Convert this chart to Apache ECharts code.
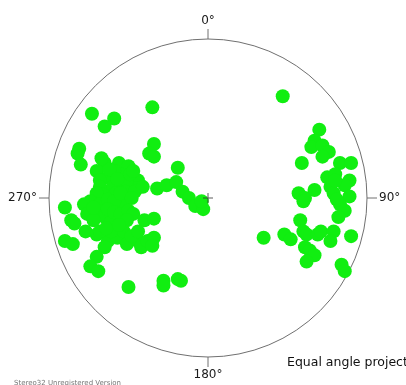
<!DOCTYPE html>
<html>
<head>
<meta charset="utf-8">
<script src="https://cdn.jsdelivr.net/npm/echarts@6/dist/echarts.min.js"></script>
<style>html,body{margin:0;padding:0;background:#fff;}#c{width:406px;height:385px;}</style>
</head>
<body>
<div id="c"></div>
<script>
// Poles, as [east, north] in percent of the primitive circle radius
const eastCluster = [
  [47,64],[70,43],[67,36],[65,32],[72,33],[76,29],[72,26],[59,22],[83,22],[90,22],
  [75,13],[80,15],[89,11],[86,8],[77,7],[79,3],[89,1],[80,11],[57,3],[61,0],
  [67,5],[60,-2],[83,-4],[81,-1],[86,-8],[82,-12],[58,-14],[60,-21],[35,-25],[48,-23],
  [52,-26],[62,-23],[69,-23],[71,-21],[79,-21],[77,-27],[90,-24],[61,-31],[64,-33],[67,-36],
  [62,-40],[84,-42],[86,-46]
];
const westCluster = [
  [-35,57],[-73,53],[-59,50],[-65,45],[-34,34],[-37,28],[-34,26],[-81,31],[-82,28],[-80,21],
  [-19,19],[-65,22],[-70,17],[-56,22],[-50,20],[-55,15],[-44,11],[-45,6],[-63,13],[-60,7],
  [-53,7],[-51,11],[-68,11],[-59,17],[-49,15],[-68,7],[-58,3],
  [-62,18],[-57,12],[-52,4],[-66,2],[-60,-5],[-54,-4],[-46,4],[-67,25],[-47,17],[-41,7],
  [-32,6],[-26,8],[-20,10],[-16,4],[-12,0],[-8,-5],[-3,-7],[-4,-2],
  [-70,3],[-74,-2],[-68,-4],[-63,-1],[-78,-4],[-59,-2],[-55,3],[-48,0],
  [-90,-6],[-86,-14],[-84,-16],[-77,-21],[-76,-10],[-70,-10],[-65,-12],[-72,-14],[-61,-15],
  [-72,-6],[-63,-7],[-59,-9],[-55,-10],[-50,-8],[-47,-10],[-40,-14],[-34,-13],[-51,-14],
  [-70,-23],[-63,-27],[-65,-31],[-57,-25],[-53,-21],[-68,-21],[-61,-21],[-51,-29],[-44,-27],
  [-64,-19],[-56,-17],[-48,-24],
  [-44,-21],[-42,-31],[-38,-27],[-34,-25],[-35,-30],
  [-90,-27],[-85,-29],[-70,-37],[-74,-43],[-69,-46],
  [-50,-56],[-28,-52],[-28,-55],[-19,-51],[-17,-52]
];
const centre = [[0,0]];
const directions = ['0°','90°','180°','270°'];

const chart = echarts.init(document.getElementById('c'), null, {renderer:'canvas'});
const FONT = 'DejaVu Sans';
chart.setOption({
  animation:false,
  backgroundColor:'#ffffff',
  polar:{center:[208,198], radius:159},
  angleAxis:{
    type:'value', min:0, max:360, interval:90, startAngle:90, clockwise:true,
    axisLine:{show:true, lineStyle:{color:'#707070', width:1}},
    axisTick:{show:true, inside:false, length:10, lineStyle:{color:'#707070', width:1}},
    axisLabel:{show:true, margin:12, color:'#1a1a1a', fontFamily:FONT, fontSize:12,
      formatter:function(v){ return v>=360 ? '' : directions[Math.round(v/90)]; }},
    splitLine:{show:false}
  },
  radiusAxis:{type:'value', min:0, max:1, show:false, axisLine:{show:false}, axisLabel:{show:false}, axisTick:{show:false}, splitLine:{show:false}},
  grid:{left:49, top:39, width:318, height:318},
  xAxis:{type:'value', min:-100, max:100, show:false},
  yAxis:{type:'value', min:-100, max:100, show:false},
  series:[
    {type:'scatter', xAxisIndex:0, yAxisIndex:0, data:eastCluster, symbol:'circle', symbolSize:14,
     itemStyle:{color:'#11ee11', opacity:1}, silent:true},
    {type:'scatter', xAxisIndex:0, yAxisIndex:0, data:westCluster, symbol:'circle', symbolSize:14,
     itemStyle:{color:'#11ee11', opacity:1}, silent:true},
    {type:'scatter', xAxisIndex:0, yAxisIndex:0, data:centre, z:5,
     symbol:'path://M4.5,0L5.5,0L5.5,4.5L10,4.5L10,5.5L5.5,5.5L5.5,10L4.5,10L4.5,5.5L0,5.5L0,4.5L4.5,4.5Z', symbolSize:10,
     itemStyle:{color:'#333'}, silent:true}
  ],
  graphic:[
    {type:'text', left:287, top:356, style:{text:'Equal angle projection', fontFamily:FONT, fontSize:12.5, fill:'#111'}},
    {type:'text', left:14, top:380, style:{text:'Stereo32 Unregistered Version', fontFamily:FONT, fontSize:7, fill:'#777'}}
  ]
});
</script>
</body>
</html>
